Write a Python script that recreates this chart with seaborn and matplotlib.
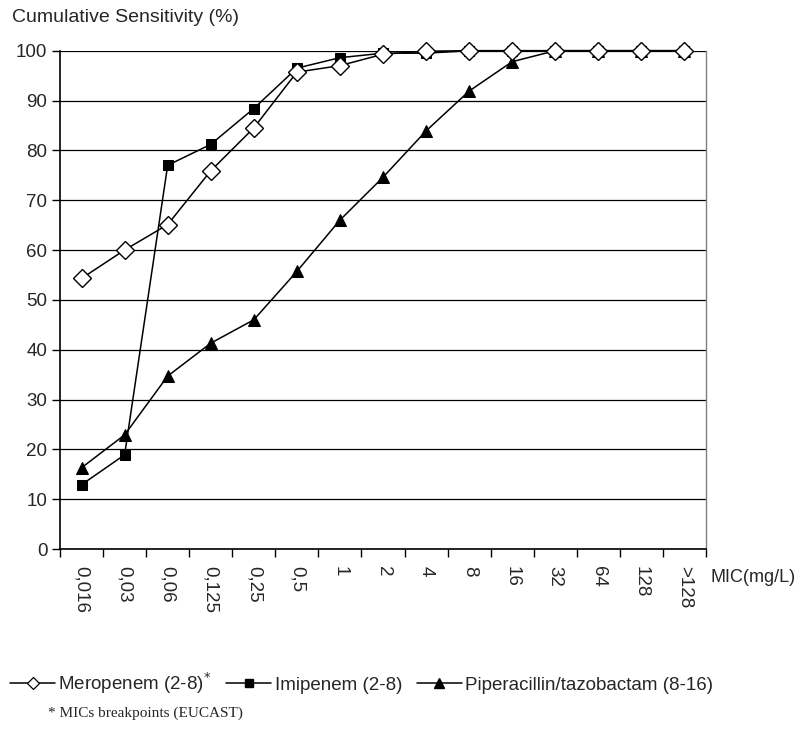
import numpy as np
import pandas as pd
import matplotlib
matplotlib.use("Agg")
import matplotlib.pyplot as plt
import seaborn as sns
from matplotlib.lines import Line2D

mic_labels = ["0,016", "0,03", "0,06", "0,125", "0,25", "0,5", "1", "2", "4",
              "8", "16", "32", "64", "128", ">128"]
meropenem = [54.3, 60.0, 65.1, 75.9, 84.5, 95.7, 97.0, 99.3, 99.9,
             100, 100, 100, 100, 100, 100]
imipenem = [12.9, 18.9, 77.0, 81.2, 88.4, 96.5, 98.6, 99.5, 99.5,
            100, 100, 100, 100, 100, 100]
piperacillin = [16.3, 22.9, 34.7, 41.3, 46.0, 55.7, 66.0, 74.6, 83.9,
                91.9, 97.8, 100, 100, 100, 100]

series_names = ["Meropenem (2-8)$^{*}$", "Imipenem (2-8)", "Piperacillin/tazobactam (8-16)"]

df = pd.DataFrame({
    "pos": np.tile(np.arange(len(mic_labels)), 3),
    "value": meropenem + imipenem + piperacillin,
    "drug": np.repeat(series_names, len(mic_labels)),
})

sns.set_style("white")
plt.rcParams["font.family"] = ["Liberation Sans", "DejaVu Sans"]
fs = 13.5

fig = plt.figure(figsize=(7.96, 7.47), dpi=100)
ax = fig.add_axes([60 / 796, 1 - 549 / 747, 646 / 796, (549 - 50.7) / 747])

styles = {
    series_names[0]: dict(marker="D", markersize=9, markerfacecolor="white", markeredgecolor="black", markeredgewidth=1.0),
    series_names[1]: dict(marker="s", markersize=7, markerfacecolor="black", markeredgecolor="black"),
    series_names[2]: dict(marker="^", markersize=8.5, markerfacecolor="black", markeredgecolor="black"),
}
legend_styles = {
    series_names[0]: dict(marker="D", markersize=6.5, markerfacecolor="white", markeredgecolor="black", markeredgewidth=0.9),
    series_names[1]: dict(marker="s", markersize=5.5, markerfacecolor="black", markeredgecolor="black"),
    series_names[2]: dict(marker="^", markersize=6.5, markerfacecolor="black", markeredgecolor="black"),
}
order = [series_names[2], series_names[1], series_names[0]]
for name in order:
    sub = df[df["drug"] == name]
    sns.lineplot(data=sub, x="pos", y="value", ax=ax, color="black", lw=1.1,
                 clip_on=False, zorder=4 if name == series_names[0] else 3, **styles[name])

ax.set_xlim(-0.5, len(mic_labels) - 0.5)
ax.set_ylim(0, 100)
ax.set_yticks(np.arange(0, 101, 10))
ax.set_yticklabels([str(v) for v in range(0, 101, 10)], fontsize=fs)
ax.yaxis.grid(True, color="black", lw=0.9)
ax.set_axisbelow(True)

ax.set_xticks(np.arange(len(mic_labels)))
ax.set_xticklabels(mic_labels, rotation=270, fontsize=fs, va="top", ha="center")
ax.set_xticks(np.arange(-0.5, len(mic_labels), 1), minor=True)
ax.tick_params(axis="x", which="major", length=0, pad=12.5)
ax.tick_params(axis="x", which="minor", length=6, width=1, color="black", direction="out", bottom=True)
ax.tick_params(axis="y", length=6, width=1, color="black", direction="out", left=True, pad=3)

ax.set_xlabel("")
ax.set_ylabel("")
for side in ["left", "bottom"]:
    ax.spines[side].set_color("black")
    ax.spines[side].set_linewidth(1.2)
ax.spines["top"].set_visible(False)
ax.spines["right"].set_color("#808080")
ax.spines["right"].set_linewidth(1.0)

fig.text(12 / 796, 1 - 18 / 747, "Cumulative Sensitivity (%)", fontsize=14, va="center", ha="left")
fig.text(710 / 796, 1 - 577 / 747, "MIC(mg/L)", fontsize=13, va="center", ha="left")

handles = [Line2D([0], [0], color="black", lw=1.1, **legend_styles[n]) for n in series_names]
fig.legend(handles, series_names, loc="center left", bbox_to_anchor=(10 / 796, 1 - 683 / 747),
           ncol=3, frameon=False, fontsize=fs, handlelength=2.4, handletextpad=0.17,
           columnspacing=0.8, borderaxespad=0, borderpad=0)

fig.text(48 / 796, 1 - 713 / 747, "* MICs breakpoints (EUCAST)", fontsize=11,
         family=["Liberation Serif", "DejaVu Serif"], va="center", ha="left")

fig.savefig("out.png", dpi=100)
